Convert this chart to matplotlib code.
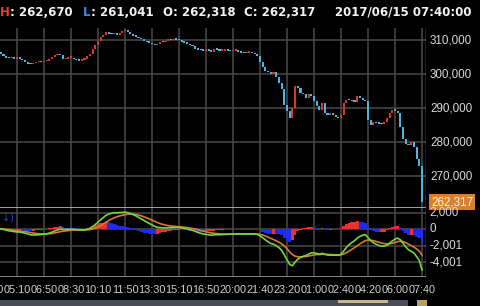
import numpy as np
import pandas as pd
import matplotlib
matplotlib.use("Agg")
import matplotlib.pyplot as plt
from matplotlib.transforms import blended_transform_factory

# ---------------- data ----------------
closes = [306000, 305300, 304800, 304600, 304700, 304500, 304700, 304500, 304000, 303500,
          303000, 302800, 303200, 303400, 303600, 303500, 303700, 303900, 304300, 304900,
          305500, 305600, 305500, 304300, 304500, 304700, 304800, 304400, 304100, 303900,
          304200, 304500, 305200, 306000, 307500, 308500, 309800, 310800, 311500, 312300,
          311900, 311700, 311900, 311600, 312200, 312600, 312800, 312300, 311800, 311300,
          311000, 310500, 310200, 309800, 309300, 309200, 308800, 308400, 308700, 309500,
          309300, 309700, 310000, 309900, 310200, 310100, 309900, 309400, 309200, 308900,
          308500, 308200, 307500, 307100, 307000, 306800, 306900, 306800, 306600, 307400,
          307200, 306800, 306900, 307000, 306900, 306700, 306800, 306900, 306600, 306300,
          306100, 306300, 306400, 306100, 305800, 305200, 303500, 302000, 301000, 300500,
          300000, 300600, 299000, 297500, 295500, 291000, 289000, 287000, 290000, 296500,
          296000, 294500, 294000, 293000, 294000, 293500, 292000, 290500, 289500, 291500,
          288500, 288000, 288300, 288000, 287500, 287000, 288000, 291500, 292500, 292300,
          292000, 291800, 293500, 292800, 292500, 292000, 286500, 285000, 285800, 285500,
          285300, 285200, 285800, 287000, 288500, 289500, 289200, 288500, 284500, 281000,
          279500, 279000, 280000, 278500, 275000, 272800, 262317]
opens = [306500] + closes[:-1]

tick_bars = [6, 16, 26, 36, 46, 56, 66, 76, 86, 96, 106, 116, 126, 136, 146, 156]
tick_labels = ["05:10", "06:50", "08:30", "10:10", "11:50", "13:30", "15:10", "16:50",
               "20:00", "21:40", "23:20", "01:00", "02:40", "04:20", "06:00", "07:40"]
price_ticks = [310000, 300000, 290000, 280000, 270000]
macd_ticks = [2000, 0, -2001, -4001]
last_close = 262317
header_parts = [("H", "#e0402f", 0), (": 262,670", "#f2f2f2", 10),
                ("L", "#3f86e0", 83), (": 261,041", "#f2f2f2", 91),
                ("O: 262,318", "#f2f2f2", 163), ("C: 262,317", "#f2f2f2", 244),
                ("2017/06/15 07:40:00", "#f2f2f2", 335)]

# ---------------- indicator ----------------
s = pd.Series(closes, dtype=float)
dif = s.ewm(span=12, adjust=False).mean() - s.ewm(span=26, adjust=False).mean()
dea = dif.ewm(span=9, adjust=False).mean()
hist = (dif - dea).values
dif = dif.values
dea = dea.values

# ---------------- figure ----------------
W, H = 480, 306
fig = plt.figure(figsize=(W / 100, H / 100), dpi=100, facecolor="black")

def px_axes(x0, y0, x1, y1):
    return fig.add_axes([x0 / W, 1 - y1 / H, (x1 - x0) / W, (y1 - y0) / H])

ax1 = px_axes(0, 28, 426, 207)
ax2 = px_axes(0, 207, 426, 277)

n = len(closes)
x = np.arange(n)
xlim = (-0.3, 157.48)
grid_c = "#4a4a4a"

for ax in (ax1, ax2):
    ax.set_facecolor("black")
    ax.set_xlim(*xlim)
    ax.set_xticks([])
    ax.set_yticks([])
    for sp in ax.spines.values():
        sp.set_visible(False)
    for tb in tick_bars:
        ax.axvline(tb, color=grid_c, lw=1.1, zorder=0)
    ax.axvline(xlim[1] - 0.05, color="#9a9a9a", lw=1.0, zorder=3)

# price panel
ax1.set_ylim(260885, 313530)
for p in price_ticks:
    ax1.axhline(p, color=grid_c, lw=1.1, zorder=0)
red_c, blue_c = "#d23a2c", "#4fb2e0"
o = np.array(opens, float)
c = np.array(closes, float)
up = c >= o
bottoms = np.minimum(o, c)
heights = np.maximum(np.abs(c - o), 450)
ax1.bar(x, heights, bottom=bottoms, width=0.78,
        color=np.where(up, red_c, blue_c), linewidth=0, zorder=2)

trans1 = blended_transform_factory(ax1.transAxes, ax1.transData)
for p in price_ticks:
    ax1.text(1 + 4 / 426, p, f"{p:,}", transform=trans1, ha="left", va="center",
             color="#d8d8d8", fontsize=8.4, family="Liberation Sans", clip_on=False)
ax1.text(1 + 5 / 426, last_close, f"{last_close:,}", transform=trans1, ha="left",
         va="center", color="#f4f4f4", fontsize=8.4, family="Liberation Sans",
         clip_on=False, zorder=10,
         bbox=dict(boxstyle="square,pad=0.2", fc="#d9822b", ec="none"))

# MACD panel
ax2.set_ylim(-5818, 2667)
for v in macd_ticks:
    ax2.axhline(v, color=grid_c, lw=1.1, zorder=0)
ax2.axhline(2667, color="#bdbdbd", lw=1.2, zorder=3)
ax2.axhline(-5818, color="#9a9a9a", lw=1.2, zorder=3)
inc = np.r_[False, np.diff(hist) > 0]
ax2.bar(x, hist, width=1.0, color=np.where(inc, "#e8322a", "#1d2cf0"),
        linewidth=0, zorder=1)
ax2.plot(x, dea, color="#d97a2e", lw=1.2, zorder=2)
ax2.plot(x, dif, color="#74d63a", lw=1.2, zorder=2)
ax2.text(0.5, 2000, "↓)", color="#2a44c8", fontsize=7, va="top", ha="left")

trans2 = blended_transform_factory(ax2.transAxes, ax2.transData)
for v in macd_ticks:
    ax2.text(1 + 3 / 426, v, f"{v:,}", transform=trans2, ha="left", va="center",
             color="#d8d8d8", fontsize=8.4, family="Liberation Sans", clip_on=False)

# x labels
transx = blended_transform_factory(ax2.transData, fig.transFigure)
for tb, lab in zip([-4] + tick_bars, ["03:30"] + tick_labels):
    ax2.text(tb, 1 - 290 / H, lab, transform=transx, ha="center", va="center",
             color="#d0d0d0", fontsize=7.8, family="Liberation Sans", clip_on=False)

# header
for txt, col, xp in header_parts:
    fig.text(xp / W, 1 - 12 / H, txt, color=col, fontsize=8.5, fontweight="bold",
             family="DejaVu Sans", ha="left", va="center")

# bottom bar
fig.patches.append(plt.Rectangle((0, 0), 408 / W, 6 / H, transform=fig.transFigure,
                                 fc="#4a4d57", ec="none"))
fig.patches.append(plt.Rectangle((338 / W, 3 / H), 50 / W, 3 / H, transform=fig.transFigure,
                                 fc="#c9b58a", ec="none"))
fig.patches.append(plt.Rectangle((417 / W, 0), 10 / W, 6 / H, transform=fig.transFigure,
                                 fc="#b8a060", ec="none"))

fig.savefig("out.png", dpi=100, facecolor="black")
